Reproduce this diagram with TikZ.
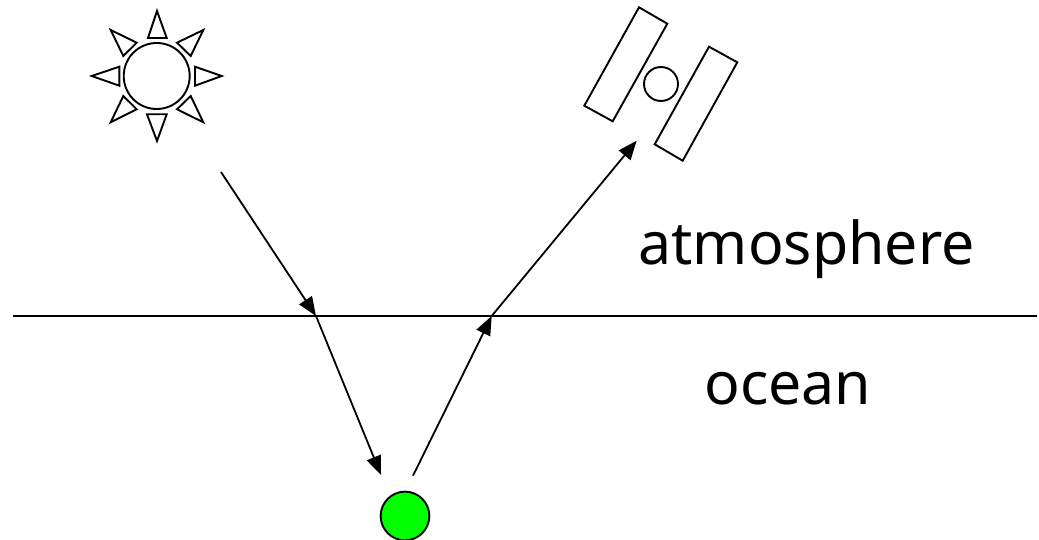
\documentclass[tikz,border=0pt]{standalone}
\usepackage{fontspec}
\setmainfont{Noto Sans}
\usetikzlibrary{arrows.meta}
\tikzset{
  outline/.style={draw=black,line width=1.9pt,line join=miter},
  disc/.style={circle,draw=black,line width=1.9pt,inner sep=0pt,fill=white},
  ray/.style={draw=black,line width=1.8pt,-{Triangle[length=19pt,width=15pt]}},
  plain/.style={draw=black,line width=1.8pt},
  label/.style={inner sep=0pt,font=\fontsize{59}{70}\selectfont}
}
\begin{document}
\begin{tikzpicture}[x=1pt,y=-1pt]
\useasboundingbox (0,0) rectangle (1039,540);
% sun
\node[disc,minimum size=66pt] (sun) at (156.7,76) {};
\draw[outline] (157,11) -- (148,38) -- (166.7,38) -- cycle;
\draw[outline] (221.7,76) -- (195,66.7) -- (195,85.7) -- cycle;
\draw[outline] (157,141) -- (147,114.3) -- (166.7,114.3) -- cycle;
\draw[outline] (91.7,76) -- (119.3,66.7) -- (119.3,85.7) -- cycle;
\draw[outline] (203.3,30) -- (177,42.7) -- (190.7,56) -- cycle;
\draw[outline] (110.7,30) -- (136.7,42.7) -- (123.3,56) -- cycle;
\draw[outline] (203.3,122.3) -- (177,109.3) -- (190.7,96) -- cycle;
\draw[outline] (110.7,122.3) -- (136.7,109.3) -- (123.3,96) -- cycle;
% satellite
\draw[outline] (639,7.3) -- (667.3,23.7) -- (612.7,121.3) -- (584.3,105.7) -- cycle;
\draw[outline] (709,46.7) -- (737.3,62.3) -- (682.7,160.7) -- (654.7,144.3) -- cycle;
\node[disc,minimum size=34pt] (sat) at (661,84) {};
% surface
\coordinate (west) at (13,316);
\coordinate (east) at (1037,316);
\draw[plain] (west) -- (east);
% rays
\coordinate (sunray) at (221,172);
\coordinate (entry) at (316,316);
\coordinate (down) at (381,475);
\coordinate (up) at (413,475.7);
\coordinate (exit) at (491.7,316);
\coordinate (top) at (636.7,140.7);
\draw[ray] (sunray) -- (entry);
\draw[ray] (entry) -- (down);
\draw[ray] (up) -- (exit);
\draw[ray] (exit) -- (top);
% particle
\node[disc,minimum size=48.7pt,fill={rgb,255:red,0;green,255;blue,0}] (particle) at (405,516) {};
% labels
\node[label] (atm) at (806.5,249) {atmosphere};
\node[label] (ocean) at (788,389) {ocean};
\end{tikzpicture}
\end{document}
